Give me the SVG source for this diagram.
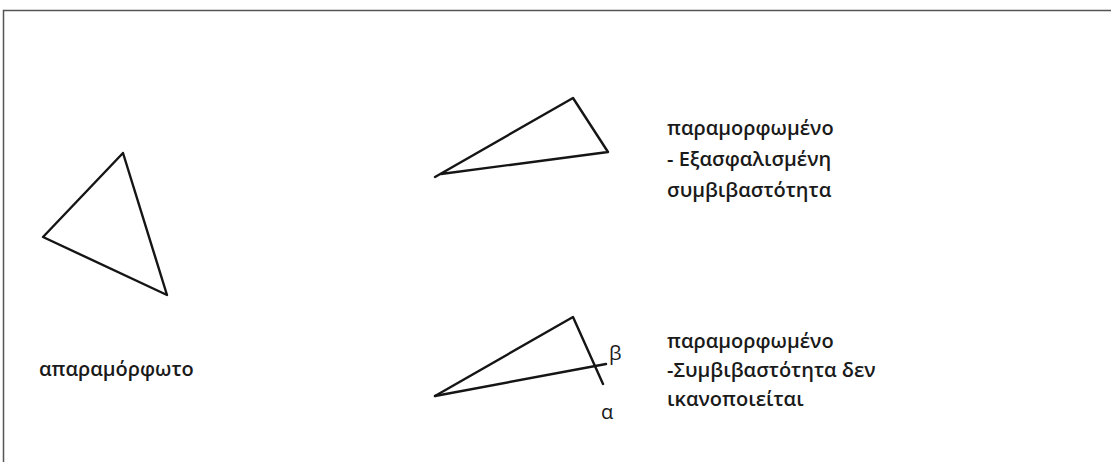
<svg xmlns="http://www.w3.org/2000/svg" width="1111" height="462" viewBox="0 0 1111 462">
<style>
.ln{fill:none;stroke:#151515;stroke-width:2.4;stroke-linecap:round;stroke-linejoin:round}
.t{font-family:"Open Sans","Noto Sans",sans-serif;font-size:20px;font-weight:600;fill:#1a1a1a}
.g{font-family:"Open Sans","Noto Sans",sans-serif;font-size:20px;font-weight:400;fill:#1a1a1a}
</style>
<rect width="1111" height="462" fill="#fff"/>
<path d="M3.5,462 V10.5 H1111" fill="none" stroke="#555" stroke-width="1.5"/>
<g id="undistorted">
<polygon class="ln" points="123,153 43,237 167,295"/>
<text class="t" x="39" y="376">απαραμόρφωτο</text>
</g>
<g id="distorted-compatible">
<path class="ln" d="M435,177 L573,98 L608,152 L441,174"/>
<text class="t" x="667" y="135">παραμορφωμένο</text>
<text class="t" x="667" y="166">- Εξασφαλισμένη</text>
<text class="t" x="667" y="197">συμβιβαστότητα</text>
</g>
<g id="distorted-incompatible">
<path class="ln" d="M435,396 L573,317 L603,384"/>
<path class="ln" d="M435,396 L606,364"/>
<text class="g" x="609" y="360">β</text>
<text class="g" x="601" y="419">α</text>
<text class="t" x="667" y="348">παραμορφωμένο</text>
<text class="t" x="667" y="377">-Συμβιβαστότητα δεν</text>
<text class="t" x="667" y="406">ικανοποιείται</text>
</g>
</svg>
